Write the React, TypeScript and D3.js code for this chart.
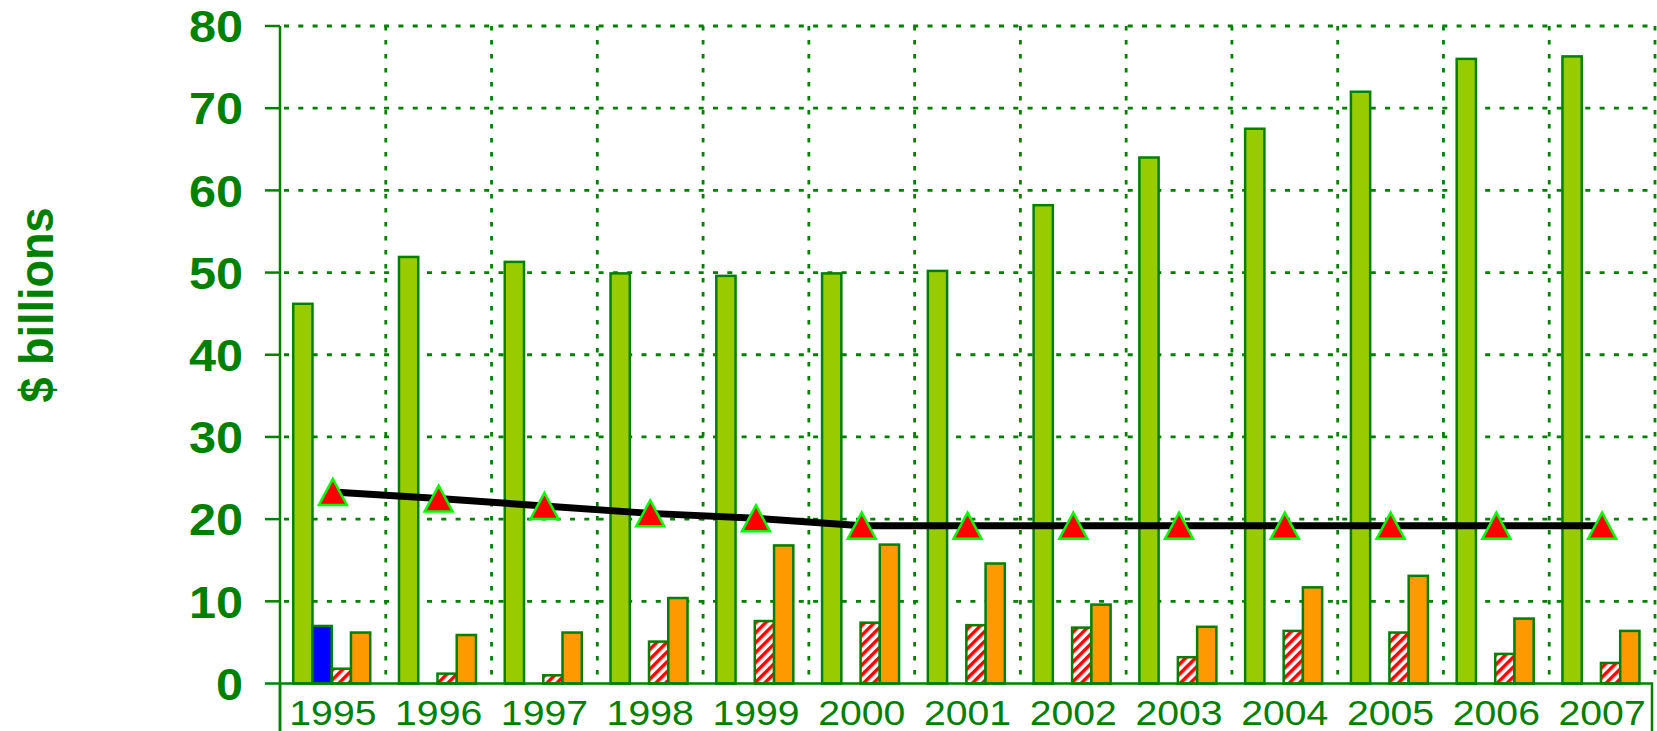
import React, { useRef, useEffect } from 'react';
import * as d3 from 'd3';

const years = ['1995', '1996', '1997', '1998', '1999', '2000', '2001', '2002', '2003', '2004', '2005', '2006', '2007'];
const greenValues = [46.2, 51.9, 51.3, 49.9, 49.6, 49.9, 50.2, 58.2, 64.0, 67.5, 72.0, 76.0, 76.3];
const blueValues = [7.0, 0, 0, 0, 0, 0, 0, 0, 0, 0, 0, 0, 0];
const hatchedValues = [1.8, 1.2, 1.0, 5.1, 7.6, 7.4, 7.1, 6.8, 3.2, 6.4, 6.2, 3.6, 2.5];
const orangeValues = [6.2, 5.9, 6.2, 10.4, 16.8, 16.9, 14.6, 9.6, 6.9, 11.7, 13.1, 7.9, 6.4];
const lineValues = [23.3, 22.5, 21.6, 20.7, 20.1, 19.2, 19.2, 19.2, 19.2, 19.2, 19.2, 19.2, 19.2];
const yTicks = [0, 10, 20, 30, 40, 50, 60, 70, 80];

const GREEN = '#008000';
const FONT = 'Arial, "Liberation Sans", sans-serif';

const App = () => {
  const svgRef = useRef(null);
  const width = 1657;
  const height = 731;

  useEffect(() => {
    const svg = d3.select(svgRef.current);
    svg.selectAll('*').remove();

    const left = 280;
    const right = 1655;
    const top = 26;
    const bottom = 683.5;

    const x = d3.scaleBand().domain(years).range([left, right]).padding(0);
    const y = d3.scaleLinear().domain([0, 80]).range([bottom, top]);
    const bw = x.bandwidth();

    const series = [
      { key: 'green', values: greenValues, fill: '#99cc00' },
      { key: 'blue', values: blueValues, fill: '#0000ff' },
      { key: 'hatched', values: hatchedValues, fill: 'url(#hatch)' },
      { key: 'orange', values: orangeValues, fill: '#ff9900' }
    ];
    const x1 = d3.scaleBand()
      .domain(series.map(s => s.key))
      .range([bw * 0.125, bw * 0.853]);

    // hatch pattern
    const defs = svg.append('defs');
    const pat = defs.append('pattern')
      .attr('id', 'hatch')
      .attr('patternUnits', 'userSpaceOnUse')
      .attr('width', 7)
      .attr('height', 7)
      .attr('patternTransform', 'rotate(45)');
    pat.append('rect').attr('width', 7).attr('height', 7).attr('fill', '#fff');
    pat.append('rect').attr('width', 3.5).attr('height', 7).attr('fill', '#ff0000');

    // grid
    const grid = svg.append('g');
    grid.selectAll('.hgrid')
      .data(yTicks.filter(t => t > 0))
      .enter().append('line')
      .attr('x1', left).attr('x2', right)
      .attr('y1', d => y(d)).attr('y2', d => y(d))
      .attr('stroke', GREEN)
      .attr('stroke-width', 2.8)
      .attr('stroke-dasharray', '5,9.3')
      .attr('stroke-dashoffset', -4);
    grid.selectAll('.vgrid')
      .data(years.slice(1).map(d => x(d)).concat([right]))
      .enter().append('line')
      .attr('x1', d => d).attr('x2', d => d)
      .attr('y1', top).attr('y2', bottom)
      .attr('stroke', GREEN)
      .attr('stroke-width', 2.8)
      .attr('stroke-dasharray', '4.5,9.5');

    // bars
    series.forEach(s => {
      svg.append('g').selectAll('rect')
        .data(years.map((yr, i) => ({ yr, v: s.values[i] })).filter(d => d.v > 0))
        .enter().append('rect')
        .attr('x', d => x(d.yr) + x1(s.key))
        .attr('y', d => y(d.v))
        .attr('width', x1.bandwidth())
        .attr('height', d => bottom - y(d.v))
        .attr('fill', s.fill)
        .attr('stroke', GREEN)
        .attr('stroke-width', 2.5);
    });

    // axes
    svg.append('line')
      .attr('x1', left).attr('x2', left)
      .attr('y1', top).attr('y2', height + 10)
      .attr('stroke', GREEN).attr('stroke-width', 2.5);
    svg.append('rect')
      .attr('x', left).attr('y', bottom)
      .attr('width', 1652 - left).attr('height', 100)
      .attr('fill', 'none')
      .attr('stroke', GREEN).attr('stroke-width', 2.5);
    svg.append('g').selectAll('line')
      .data(yTicks)
      .enter().append('line')
      .attr('x1', 265).attr('x2', left)
      .attr('y1', d => y(d)).attr('y2', d => y(d))
      .attr('stroke', GREEN).attr('stroke-width', 2.5);

    svg.append('g').selectAll('text')
      .data(yTicks)
      .enter().append('text')
      .attr('transform', d => `translate(243,${y(d)}) scale(1.08,1)`)
      .attr('dy', '0.36em')
      .attr('text-anchor', 'end')
      .attr('fill', GREEN)
      .style('font-family', FONT)
      .style('font-size', '45px')
      .style('font-weight', 'bold')
      .text(d => d);

    svg.append('g').selectAll('text')
      .data(years)
      .enter().append('text')
      .attr('transform', d => `translate(${x(d) + bw / 2},724.5) scale(1.12,1)`)
      .attr('text-anchor', 'middle')
      .attr('fill', GREEN)
      .style('font-family', FONT)
      .style('font-size', '35px')
      .text(d => d);

    svg.append('text')
      .attr('transform', 'translate(53,305) rotate(-90) scale(1,1.08)')
      .attr('text-anchor', 'middle')
      .attr('fill', GREEN)
      .style('font-family', FONT)
      .style('font-size', '45px')
      .style('font-weight', 'bold')
      .text('$ billions');

    // line with triangle markers
    const pts = years.map((yr, i) => [x(yr) + bw / 2, y(lineValues[i])]);
    svg.append('path')
      .attr('d', d3.line()(pts))
      .attr('fill', 'none')
      .attr('stroke', '#000')
      .attr('stroke-width', 7);

    const tw = 28;
    const th = 26;
    svg.append('g').selectAll('path')
      .data(pts)
      .enter().append('path')
      .attr('d', d => `M${d[0]},${d[1] - th / 2}L${d[0] + tw / 2},${d[1] + th / 2}L${d[0] - tw / 2},${d[1] + th / 2}Z`)
      .attr('fill', '#ff0000')
      .attr('stroke', '#00ff00')
      .attr('stroke-width', 2.5)
      .attr('stroke-linejoin', 'miter');
  }, []);

  return (
    <svg
      ref={svgRef}
      width={width}
      height={height}
      style={{ position: 'absolute', left: 0, top: 0, background: '#fff' }}
    />
  );
};

export default App;
